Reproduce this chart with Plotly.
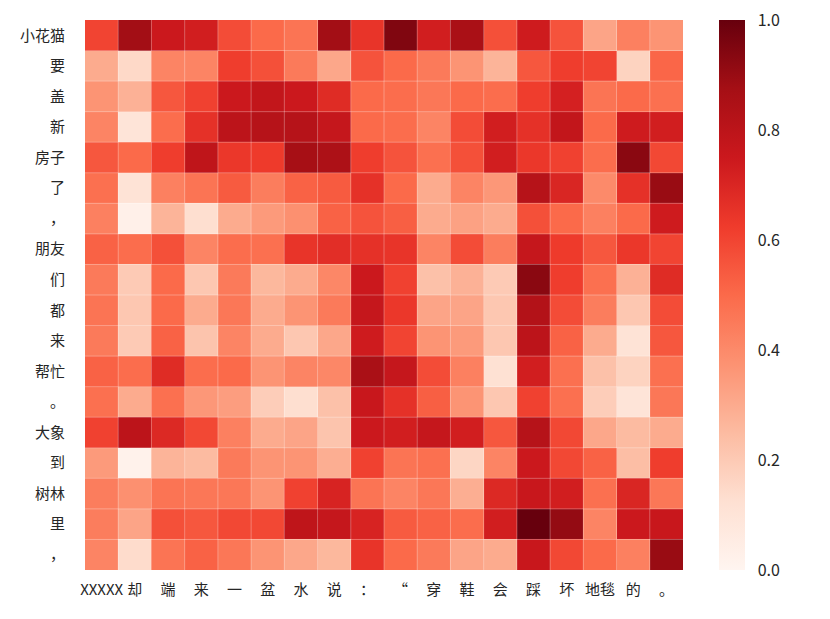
import plotly.graph_objects as go

x_labels = ["XXXXX", "却", "端", "来", "一", "盆", "水", "说", "：", "“", "穿", "鞋", "会", "踩", "坏", "地毯", "的", "。"]
y_labels = ["小花猫", "要", "盖", "新", "房子", "了", "，", "朋友", "们", "都", "来", "帮忙", "。", "大象", "到", "树林", "里", "，"]

row_小花猫 = [0.60, 0.88, 0.75, 0.73, 0.58, 0.50, 0.47, 0.88, 0.65, 0.95, 0.73, 0.86, 0.57, 0.74, 0.56, 0.32, 0.43, 0.37]
row_要 = [0.30, 0.15, 0.42, 0.42, 0.62, 0.57, 0.45, 0.31, 0.56, 0.50, 0.45, 0.37, 0.27, 0.55, 0.62, 0.60, 0.17, 0.51]
row_盖 = [0.37, 0.28, 0.55, 0.61, 0.75, 0.78, 0.75, 0.68, 0.50, 0.49, 0.46, 0.50, 0.49, 0.62, 0.72, 0.47, 0.50, 0.48]
row_新 = [0.42, 0.10, 0.49, 0.66, 0.80, 0.82, 0.82, 0.77, 0.50, 0.49, 0.42, 0.58, 0.73, 0.66, 0.78, 0.50, 0.74, 0.73]
row_房子 = [0.55, 0.50, 0.62, 0.79, 0.64, 0.63, 0.87, 0.85, 0.62, 0.56, 0.48, 0.57, 0.73, 0.64, 0.61, 0.49, 0.93, 0.59]
row_了 = [0.48, 0.11, 0.43, 0.47, 0.54, 0.44, 0.52, 0.54, 0.66, 0.50, 0.30, 0.42, 0.36, 0.82, 0.70, 0.40, 0.66, 0.90]
row_逗号1 = [0.43, 0.03, 0.27, 0.13, 0.30, 0.35, 0.38, 0.52, 0.56, 0.53, 0.30, 0.33, 0.30, 0.57, 0.50, 0.43, 0.50, 0.74]
row_朋友 = [0.52, 0.49, 0.57, 0.42, 0.49, 0.48, 0.65, 0.67, 0.66, 0.65, 0.42, 0.58, 0.44, 0.77, 0.63, 0.55, 0.64, 0.60]
row_们 = [0.45, 0.20, 0.50, 0.21, 0.45, 0.26, 0.30, 0.41, 0.75, 0.61, 0.23, 0.28, 0.20, 0.93, 0.62, 0.48, 0.28, 0.68]
row_都 = [0.47, 0.21, 0.50, 0.30, 0.46, 0.30, 0.37, 0.45, 0.77, 0.64, 0.32, 0.32, 0.21, 0.83, 0.58, 0.44, 0.21, 0.58]
row_来 = [0.45, 0.20, 0.52, 0.22, 0.42, 0.30, 0.21, 0.31, 0.74, 0.60, 0.37, 0.35, 0.21, 0.80, 0.52, 0.30, 0.11, 0.55]
row_帮忙 = [0.52, 0.49, 0.68, 0.49, 0.50, 0.37, 0.42, 0.41, 0.86, 0.77, 0.58, 0.43, 0.12, 0.73, 0.48, 0.23, 0.17, 0.48]
row_句号 = [0.48, 0.30, 0.48, 0.36, 0.34, 0.19, 0.13, 0.23, 0.76, 0.66, 0.53, 0.37, 0.21, 0.61, 0.48, 0.19, 0.10, 0.46]
row_大象 = [0.61, 0.80, 0.69, 0.59, 0.43, 0.30, 0.32, 0.22, 0.75, 0.73, 0.77, 0.73, 0.55, 0.82, 0.59, 0.31, 0.25, 0.30]
row_到 = [0.35, 0.02, 0.27, 0.25, 0.45, 0.37, 0.37, 0.29, 0.61, 0.47, 0.48, 0.16, 0.42, 0.75, 0.59, 0.52, 0.24, 0.62]
row_树林 = [0.44, 0.38, 0.47, 0.46, 0.46, 0.37, 0.61, 0.71, 0.47, 0.42, 0.46, 0.29, 0.69, 0.76, 0.73, 0.48, 0.70, 0.46]
row_里 = [0.44, 0.32, 0.57, 0.55, 0.59, 0.59, 0.79, 0.77, 0.71, 0.54, 0.52, 0.49, 0.73, 1.00, 0.91, 0.42, 0.75, 0.76]
row_逗号2 = [0.42, 0.14, 0.47, 0.52, 0.46, 0.37, 0.31, 0.26, 0.65, 0.50, 0.45, 0.32, 0.30, 0.76, 0.59, 0.50, 0.43, 0.90]

z = [row_小花猫, row_要, row_盖, row_新, row_房子, row_了, row_逗号1, row_朋友, row_们, row_都,
     row_来, row_帮忙, row_句号, row_大象, row_到, row_树林, row_里, row_逗号2]

cbar_ticks = [0.0, 0.2, 0.4, 0.6, 0.8, 1.0]

reds = [
    [0.0, "#fff5f0"], [0.125, "#fee0d2"], [0.25, "#fcbba1"], [0.375, "#fc9272"],
    [0.5, "#fb6a4a"], [0.625, "#ef3b2c"], [0.75, "#cb181d"], [0.875, "#a50f15"], [1.0, "#67000d"],
]

FONT = "Noto Sans CJK SC"
nx, ny = len(x_labels), len(y_labels)

fig = go.Figure(go.Heatmap(
    z=z,
    x=list(range(nx)),
    y=list(range(ny)),
    colorscale=reds,
    zmin=0, zmax=1,
    hoverongaps=False,
    colorbar=dict(
        x=1.06, xanchor="left", xref="paper",
        y=1.0, yanchor="top", len=1.0, lenmode="fraction",
        xpad=0, ypad=0,
        thickness=26, thicknessmode="pixels",
        outlinewidth=0,
        tickvals=cbar_ticks,
        ticktext=[f"{v:.1f}" for v in cbar_ticks],
        ticklabeloverflow="allow",
        ticks="outside", ticklen=10, tickcolor="rgba(0,0,0,0)",
        tickfont=dict(family=FONT, size=16, color="#262626"),
    ),
))

shapes = []
for i in range(1, nx):
    shapes.append(dict(type="line", xref="x", yref="paper", x0=i - 0.5, x1=i - 0.5, y0=0, y1=1,
                       line=dict(color="rgba(255,255,255,0.3)", width=1)))
for j in range(1, ny):
    shapes.append(dict(type="line", xref="paper", yref="y", x0=0, x1=1, y0=j - 0.5, y1=j - 0.5,
                       line=dict(color="rgba(255,255,255,0.3)", width=1)))

fig.update_layout(
    width=822, height=611,
    margin=dict(l=77, r=147, t=12, b=49, autoexpand=False),
    paper_bgcolor="white",
    plot_bgcolor="white",
    shapes=shapes,
    font=dict(family=FONT, size=15, color="#262626"),
    xaxis=dict(
        tickmode="array", tickvals=list(range(nx)), ticktext=x_labels,
        range=[-0.5, nx - 0.5], showgrid=False, zeroline=False, showline=False,
        ticks="outside", ticklen=6, tickcolor="rgba(0,0,0,0)", automargin=False,
        tickfont=dict(family=FONT, size=15, color="#262626"), tickangle=0,
    ),
    yaxis=dict(
        tickmode="array", tickvals=list(range(ny)), ticktext=y_labels,
        range=[ny - 0.5, -0.5], showgrid=False, zeroline=False, showline=False,
        ticks="outside", ticklen=16, tickcolor="rgba(0,0,0,0)", automargin=False,
        tickfont=dict(family=FONT, size=15, color="#262626"),
    ),
)

fig.write_html("out.html")
